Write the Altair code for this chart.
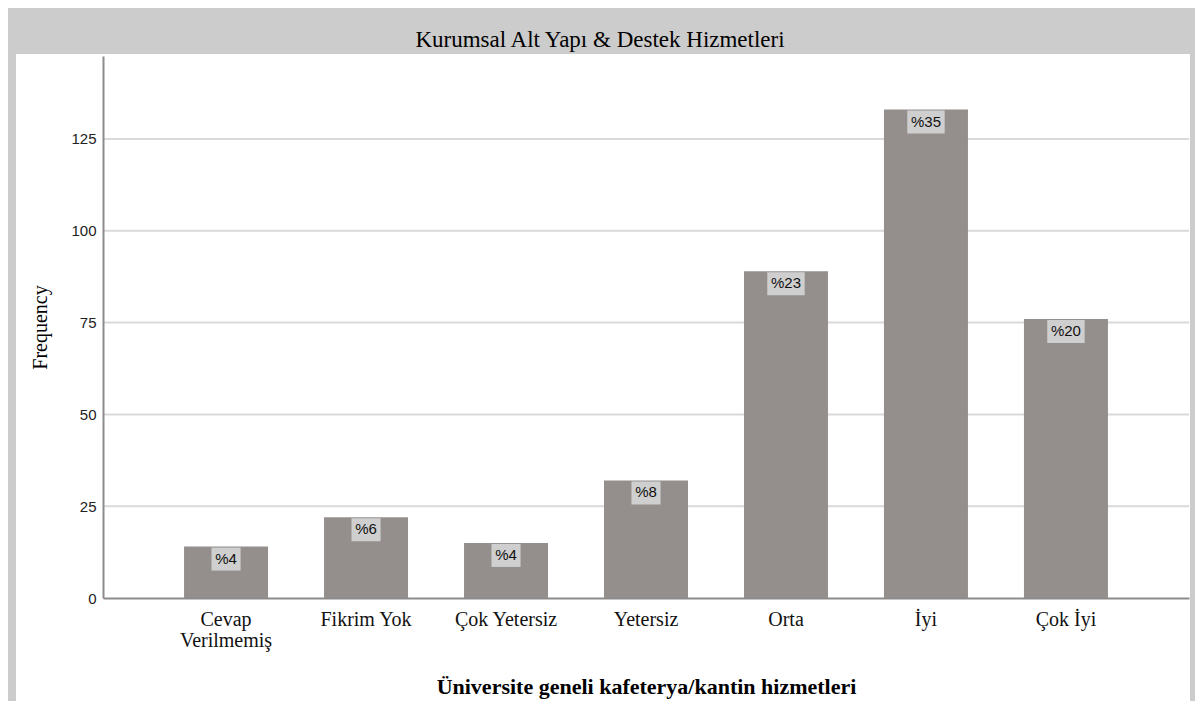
import altair as alt
import pandas as pd

categories = ["Cevap Verilmemiş", "Fikrim Yok", "Çok Yetersiz", "Yetersiz", "Orta", "İyi", "Çok İyi"]
counts = [14, 22, 15, 32, 89, 133, 76]
pct_labels = ["%4", "%6", "%4", "%8", "%23", "%35", "%20"]
y_ticks = [0, 25, 50, 75, 100, 125]
grid_values = [25, 50, 75, 100, 125]

df = pd.DataFrame({"cat": categories, "value": counts, "pct": pct_labels})
grid_df = pd.DataFrame({"value": grid_values})

SERIF = "Liberation Serif"
SANS = "Liberation Sans"
W, H = 1086, 542

xscale = alt.Scale(domain=categories, paddingInner=0.4, paddingOuter=0.579)
yscale = alt.Scale(domain=[0, 147.6], nice=False, zero=True)

x_axis = alt.Axis(
    title="Üniversite geneli kafeterya/kantin hizmetleri",
    titleFont=SERIF, titleFontSize=22, titleFontWeight="bold", titleColor="#000",
    titleY=88, titleBaseline="middle",
    labelFont=SERIF, labelFontSize=20, labelColor="#111", labelAngle=0,
    labelPadding=11, labelLineHeight=21,
    labelExpr="datum.label == 'Cevap Verilmemiş' ? ['Cevap', 'Verilmemiş'] : datum.label",
    ticks=False, grid=False, domainColor="#8c8c8c", domainWidth=2, zindex=1,
)
y_axis = alt.Axis(
    title="Frequency", titleFont=SERIF, titleFontSize=20, titleFontWeight="normal",
    titleColor="#000", titleX=-63, titleY=H / 2, titleAngle=-90, titleBaseline="middle",
    titleAlign="center",
    values=y_ticks, labelFont=SANS, labelFontSize=15, labelColor="#222",
    labelPadding=7, ticks=False, grid=False, domainColor="#8c8c8c", domainWidth=2,
    zindex=1,
)

x_enc = alt.X("cat:N", scale=xscale, sort=categories, axis=x_axis)
y_enc = alt.Y("value:Q", scale=yscale, axis=y_axis)

base = alt.Chart(df)

panel = alt.Chart(grid_df).mark_rect(color="white").encode(
    x=alt.value(-87), x2=alt.value(1087), y=alt.value(-2), y2=alt.value(660)
)

grid = alt.Chart(grid_df).mark_rule(color="#d9d9d9", strokeWidth=2).encode(y=y_enc)

bars = base.mark_bar(color="#948f8d").encode(x=x_enc, y=y_enc)

boxes = base.transform_calculate(
    boxw="length(datum.pct) * 8.3 + 12.5"
).mark_bar(color="#cfcfcf", yOffset=1, y2Offset=24).encode(
    x=x_enc,
    y=y_enc,
    y2=alt.Y2("value:Q"),
    size=alt.Size("boxw:Q", scale=None, legend=None),
)

texts = base.mark_text(font=SANS, fontSize=15, color="#111", baseline="middle", dy=12).encode(
    x=x_enc,
    y=y_enc,
    text="pct:N",
)

chart = alt.layer(panel, grid, bars, boxes, texts).properties(
    width=W, height=H,
    title=alt.TitleParams(
        "Kurumsal Alt Yapı & Destek Hizmetleri",
        font=SERIF, fontSize=23, fontWeight="normal", color="#000",
        anchor="middle", dx=-46, offset=-9, baseline="middle",
    ),
    background="#cccccc",
    padding={"left": 95, "top": 48, "right": 6, "bottom": 103},
    autosize=alt.AutoSizeParams(type="none"),
).configure_view(strokeWidth=0, fill=None)

chart.save("out.html", embed_options={"renderer": "svg", "actions": False})
